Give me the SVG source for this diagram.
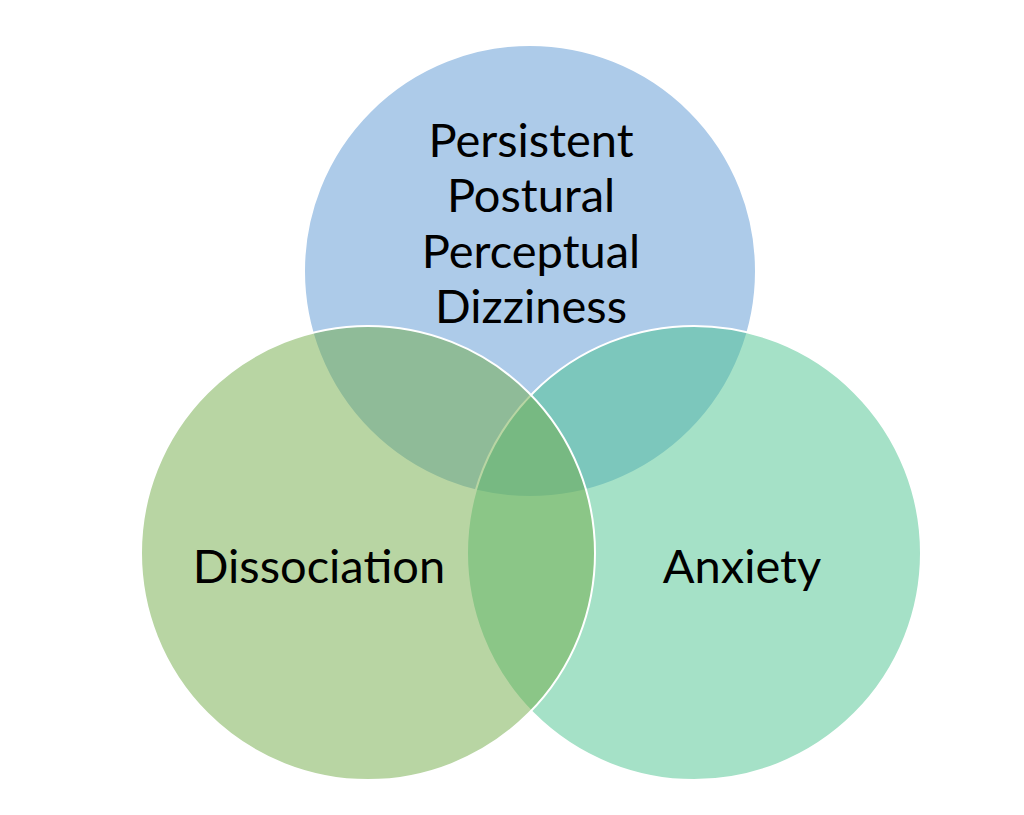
<svg xmlns="http://www.w3.org/2000/svg" width="1024" height="815" viewBox="0 0 1024 815">
<style>
.c{fill-opacity:0.5;stroke:#fff;stroke-width:2}
.t{font-family:Lato,"Liberation Sans",sans-serif;font-size:47px;fill:#000;text-anchor:middle}
</style>
<rect width="1024" height="815" fill="#fff"/>
<g id="ppd"><circle class="c" cx="530" cy="271" r="226" fill="#5B97D3"/></g>
<g id="anxiety"><circle class="c" cx="694" cy="553" r="227" fill="#4BC38F"/></g>
<g id="dissociation"><circle class="c" cx="368" cy="553" r="227" fill="#71AB47"/></g>
<g id="labels">
<text class="t" x="531" y="157">Persistent</text>
<text class="t" x="531" y="212">Postural</text>
<text class="t" x="531" y="268">Perceptual</text>
<text class="t" x="531" y="323">Dizziness</text>
<text class="t" x="319" y="583">Dissociation</text>
<text class="t" x="742" y="583">Anxiety</text>
</g>
<g id="connectors"/>
</svg>
